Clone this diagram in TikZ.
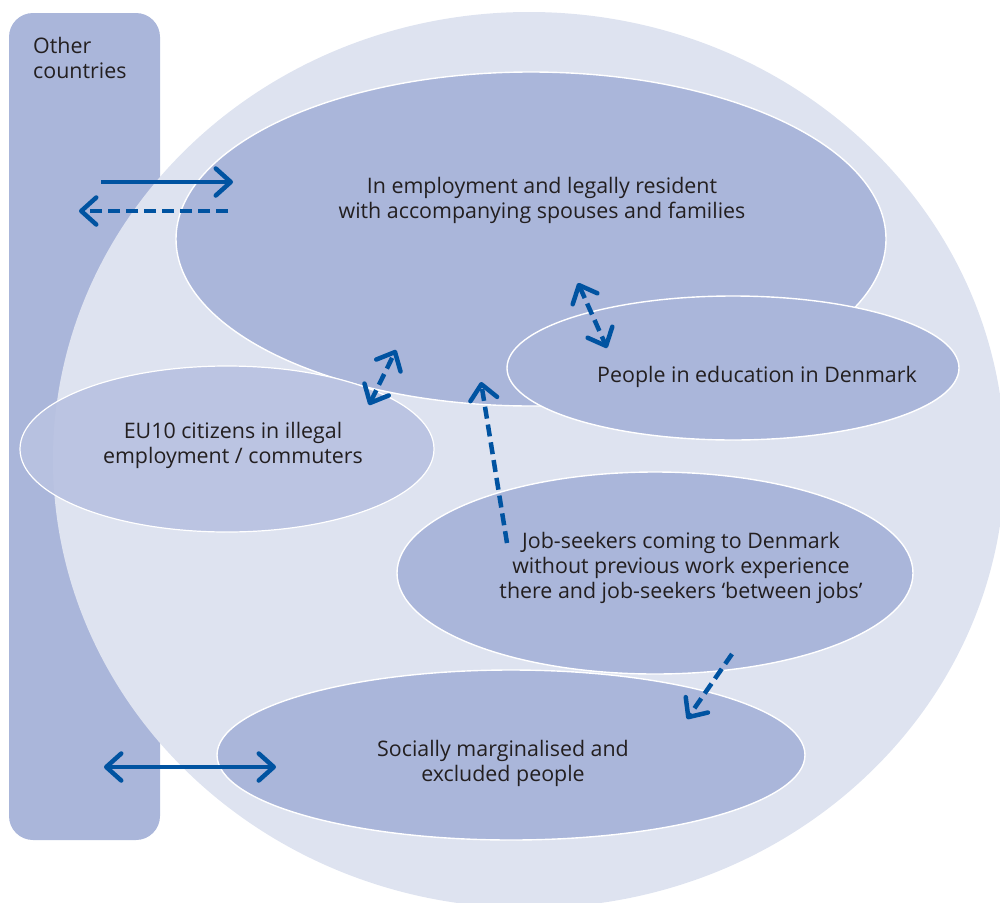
\documentclass[tikz,border=0pt]{standalone}
\usepackage{fontspec}
\setmainfont{Open Sans}
\usetikzlibrary{arrows.meta}
\definecolor{lightbg}{HTML}{DEE3F0}
\definecolor{midbg}{HTML}{AAB6DA}
\definecolor{eubg}{HTML}{B9C2E1}
\definecolor{arrowblue}{HTML}{0053A1}
\definecolor{textcol}{HTML}{231F20}
\tikzset{
  blob/.style={fill=midbg, draw=white, line width=1.4pt},
  lbl/.style={text=textcol, align=center, font=\fontsize{21.4}{25}\selectfont, inner sep=0pt},
  flow/.style={draw=arrowblue, line width=4.5pt, line cap=butt},
  dashflow/.style={flow, dash pattern=on 12pt off 6pt},
  tip/.tip={Straight Barb[length=15pt, width=27pt, round, line width=4.5pt]},
}
\begin{document}
\begin{tikzpicture}[x=1pt, y=-1pt]
\useasboundingbox (0,0) rectangle (1000,902);
% other countries
\fill[midbg, rounded corners=24pt] (9,13) rectangle (160,840);
% big ellipse (Denmark)
\fill[lightbg] (529,460) ellipse [x radius=476, y radius=448];
% employment
\filldraw[blob] (531,239) ellipse [x radius=355, y radius=167];
% education
\filldraw[blob] (733,368) ellipse [x radius=226, y radius=72];
% EU10
\filldraw[fill=eubg, fill opacity=0.92, draw=white, line width=1.2pt] (227,449) ellipse [x radius=207, y radius=83];
% job seekers
\filldraw[blob] (655,573) ellipse [x radius=258, y radius=101];
% socially marginalised
\filldraw[blob] (511,755) ellipse [x radius=294, y radius=85];

% labels
\node[lbl, anchor=west, align=left] (oc) at (33,58) {Other\\countries};
\node[lbl] (emp) at (542,200) {In employment and legally resident\\with accompanying spouses and families};
\node[lbl] (edu) at (757,377) {People in education in Denmark};
\node[lbl] (eu) at (233,445) {EU10 citizens in illegal\\employment / commuters};
\node[lbl] (job) at (681,568) {Job-seekers coming to Denmark\\without previous work experience\\there and job-seekers `between jobs'};
\node[lbl] (soc) at (503,763) {Socially marginalised and\\excluded people};

% arrow end points
\coordinate (a1) at (101,182); \coordinate (a2) at (233,182);
\coordinate (b1) at (228,211); \coordinate (b2) at (79,211);
\coordinate (c1) at (369,405); \coordinate (c2) at (396,350);
\coordinate (d1) at (578,283); \coordinate (d2) at (607,348);
\coordinate (e1) at (507,543); \coordinate (e2) at (481,382);
\coordinate (f1) at (732,654); \coordinate (f2) at (687,719);
\coordinate (g1) at (104,767); \coordinate (g2) at (276,767);

\draw[flow, -tip] (a1) -- (a2);
\draw[dashflow, -tip] (b1) -- (b2);
\draw[dashflow, tip-tip] (c1) -- (c2);
\draw[dashflow, tip-tip] (d1) -- (d2);
\draw[dashflow, -tip] (e1) -- (e2);
\draw[dashflow, -tip] (f1) -- (f2);
\draw[flow, tip-tip] (g1) -- (g2);
\end{tikzpicture}
\end{document}
